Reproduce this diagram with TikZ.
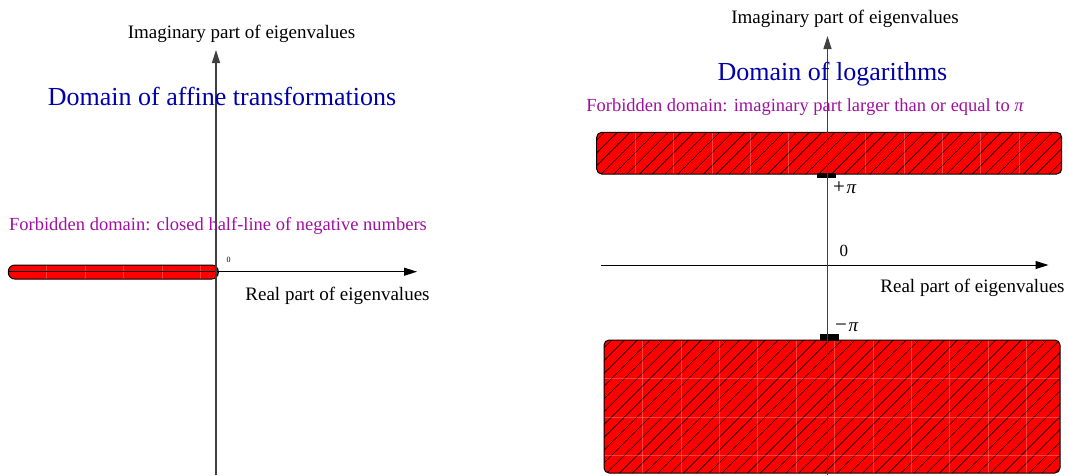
\documentclass[tikz,border=0pt]{standalone}
\usepackage{fontspec}
\setmainfont{Liberation Serif}
\usetikzlibrary{arrows.meta}
\definecolor{titleblue}{RGB}{0,0,170}
\definecolor{forbid}{RGB}{160,16,160}
\begin{document}
\begin{tikzpicture}[x=1pt,y=-1pt,
  axisv/.style={line width=1.2pt, draw=black!75, -{Triangle[length=13pt,width=8pt]}},
  axish/.style={line width=1pt, draw=black, -{Triangle[length=13pt,width=8pt]}},
  lbl/.style={font=\fontsize{19}{22}\selectfont, anchor=base, inner sep=0pt},
  lblw/.style={font=\fontsize{19}{22}\selectfont, anchor=base west, inner sep=0pt},
  ttl/.style={font=\fontsize{26}{30}\selectfont, text=titleblue, anchor=base, inner sep=0pt},
  forb/.style={font=\fontsize{18.5}{22}\selectfont, text=forbid, anchor=base, inner sep=0pt},
  barfill/.style={fill=red},
  barline/.style={draw=black, line width=1pt},
  hatch/.style={line width=0.6pt, draw=black},
  tile/.style={draw=white, opacity=0.25, line width=0.5pt},
  tickmark/.style={fill=black}]
\useasboundingbox (0,0) rectangle (1068,475);

% ---------- left diagram ----------
\fill[barfill, rounded corners=6.5pt] (8.3,265) rectangle (218.3,279);
\foreach \k in {1,...,5} \draw[tile] (8.3+\k*38.4,265) -- (8.3+\k*38.4,279);
\draw[barline, rounded corners=6.5pt] (8.3,265) rectangle (218.3,279);

\coordinate (lvb) at (216,475);
\coordinate (lvt) at (216,50);
\coordinate (lhl) at (8,271.7);
\coordinate (lhr) at (417,271.7);
\draw[axish] (lhl) -- (lhr);
\draw[axisv] (lvb) -- (lvt);

\node[lbl] (limag) at (241.5,38.5) {Imaginary part of eigenvalues};
\node[ttl] (ltitle) at (222,105) {Domain of affine transformations};
\node[forb] (lforb) at (218,230) {Forbidden domain: closed half-line of negative numbers};
\node[font=\fontsize{8}{9}\selectfont, anchor=base, inner sep=0pt] (lzero) at (228.5,262.7) {0};
\node[lbl] (lreal) at (337.5,300) {Real part of eigenvalues};

% ---------- right diagram: top bar ----------
\fill[barfill, rounded corners=5pt] (596.7,132.3) rectangle (1061.7,174);
\begin{scope}
  \clip[rounded corners=5pt] (596.7,132.3) rectangle (1061.7,174);
  \foreach \k in {0,...,40} \draw[hatch] (550+\k*12.8,174) -- ++(41.7,-41.7);
  \foreach \k in {1,...,11} \draw[tile] (596.7+\k*38.4,132.3) -- (596.7+\k*38.4,174);
\end{scope}
\draw[barline, rounded corners=5pt] (596.7,132.3) rectangle (1061.7,174);

% ---------- right diagram: bottom bar ----------
\fill[barfill, rounded corners=5pt] (604,340) rectangle (1060,473);
\begin{scope}
  \clip[rounded corners=5pt] (604,340) rectangle (1060,473);
  \foreach \k in {0,...,48} \draw[hatch] (466+\k*12.8,473) -- ++(133,-133);
  \foreach \k in {1,...,11} \draw[tile] (604+\k*38.4,340) -- (604+\k*38.4,473);
  \foreach \k in {1,...,3} \draw[tile] (604,340+\k*38.4) -- (1060,340+\k*38.4);
\end{scope}
\draw[barline, rounded corners=5pt] (604,340) rectangle (1060,473);

% ticks
\fill[tickmark] (817,173) rectangle (836,177.5);
\fill[tickmark] (820,334) rectangle (839,341);

\coordinate (rvb) at (827.5,475);
\coordinate (rvt) at (827.5,36);
\coordinate (rhl) at (601,265);
\coordinate (rhr) at (1048.5,265);
\draw[axish] (rhl) -- (rhr);
\draw[axisv] (rvb) -- (rvt);

\node[lbl] (rimag) at (845,23.5) {Imaginary part of eigenvalues};
\node[ttl] (rtitle) at (832.5,80) {Domain of logarithms};
\node[forb] (rforb) at (805,111.5) {Forbidden domain: imaginary part larger than or equal to {\itshape π}};
\node[lblw] (ppi) at (833,193) {{\fontsize{21}{22}\selectfont +}\hspace{1.5pt}{\itshape π}};
\node[font=\fontsize{17}{20}\selectfont, anchor=base, inner sep=0pt] (rzero) at (843.8,256.7) {0};
\node[lbl] (rreal) at (972.5,292.5) {Real part of eigenvalues};
\node[lblw] (mpi) at (835,331.5) {{\fontsize{21}{22}\selectfont −}\hspace{1.5pt}{\itshape π}};
\end{tikzpicture}
\end{document}
